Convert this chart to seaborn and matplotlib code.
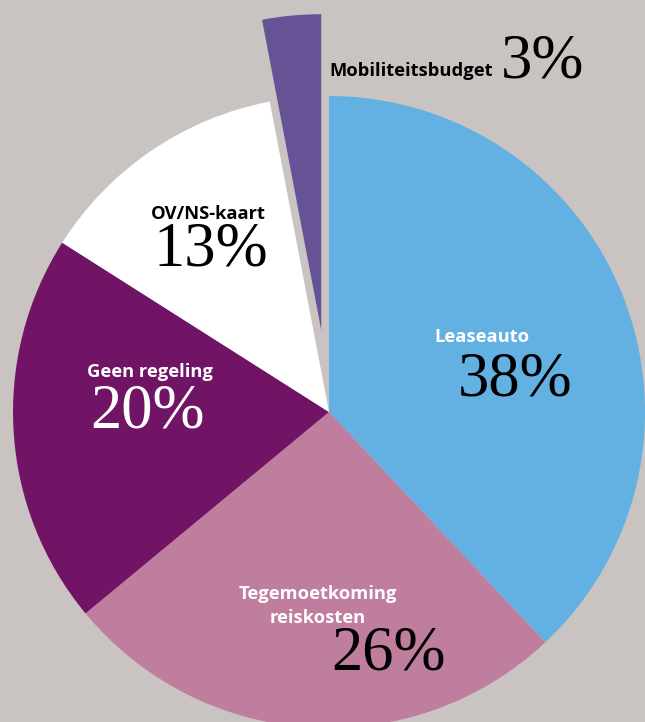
import matplotlib
matplotlib.use("Agg")
import seaborn as sns
from matplotlib import pyplot as plt

# data
categories = ["Leaseauto", "Tegemoetkoming\nreiskosten", "Geen regeling",
              "OV/NS-kaart", "Mobiliteitsbudget"]
shares = [38, 26, 20, 13, 3]
pct_labels = ["38%", "26%", "20%", "13%", "3%"]

# style
colors = ["#63b1e3", "#c07e9f", "#711465", "#ffffff", "#665396"]
name_colors = ["white", "white", "white", "black", "black"]
pct_colors = ["black", "black", "white", "black", "black"]
explode = [0, 0, 0, 0, 0.26]
bg = "#c9c4c2"

# layout in pixels (center of each text)
W, H = 645, 722
cx, cy, R = 329, 412, 316
name_pos = [(482, 337), (318, 606), (150, 372), (208, 214), (411, 71)]
pct_pos = [(515, 381), (388, 654), (147, 412), (211, 251), (542, 62)]


def px(p):
    return (p[0] - cx) / R, (cy - p[1]) / R


sns.set_theme(style="white")
plt.rcParams["font.family"] = ["Open Sans", "DejaVu Sans"]

fig = plt.figure(figsize=(W / 100, H / 100), dpi=100, facecolor=bg)
ax = fig.add_axes([0, 0, 1, 1])
wedges, _ = ax.pie(shares, colors=colors, startangle=90, counterclock=False,
                   explode=explode, radius=1,
                   wedgeprops=dict(linewidth=0))

ax.set_aspect("auto")
ax.set_xlim(-cx / R, (W - cx) / R)
ax.set_ylim(-(H - cy) / R, cy / R)
ax.axis("off")

for i in range(len(categories)):
    x, y = px(name_pos[i])
    ax.text(x, y, categories[i], ha="center", va="center", fontsize=13.2,
            fontweight="bold", color=name_colors[i], linespacing=1.4)
    x, y = px(pct_pos[i])
    ax.text(x, y, pct_labels[i], ha="center", va="center", fontsize=45,
            family=["Liberation Serif", "DejaVu Serif"], color=pct_colors[i])

fig.savefig("out.png", dpi=100, facecolor=bg)
